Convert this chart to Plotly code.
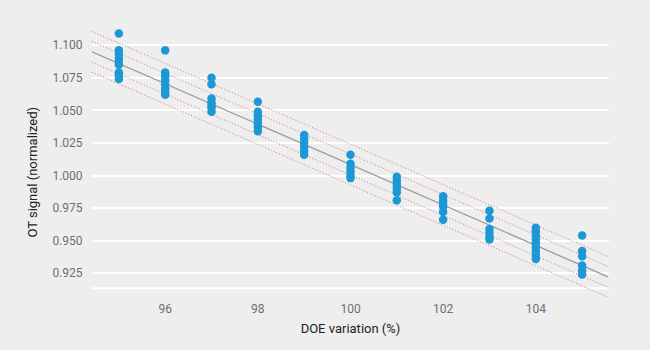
import plotly.graph_objects as go
import numpy as np

# ---- data ----
doe_levels = [95, 96, 97, 98, 99, 100, 101, 102, 103, 104, 105]
signal_95 = [1.109, 1.096, 1.093, 1.090, 1.087, 1.085, 1.079, 1.077, 1.074]
signal_96 = [1.096, 1.079, 1.076, 1.073, 1.070, 1.067, 1.064, 1.062]
signal_97 = [1.075, 1.070, 1.059, 1.056, 1.054, 1.052, 1.049]
signal_98 = [1.0565, 1.049, 1.046, 1.043, 1.040, 1.037, 1.034]
signal_99 = [1.031, 1.028, 1.025, 1.022, 1.019, 1.016]
signal_100 = [1.016, 1.009, 1.006, 1.003, 1.000, 0.998]
signal_101 = [0.999, 0.996, 0.993, 0.990, 0.987, 0.981]
signal_102 = [0.984, 0.981, 0.978, 0.976, 0.972, 0.966]
signal_103 = [0.973, 0.967, 0.959, 0.956, 0.953, 0.951]
signal_104 = [0.960, 0.957, 0.954, 0.951, 0.948, 0.945, 0.942, 0.939, 0.936]
signal_105 = [0.954, 0.942, 0.938, 0.931, 0.927, 0.924]
signals = [signal_95, signal_96, signal_97, signal_98, signal_99, signal_100,
           signal_101, signal_102, signal_103, signal_104, signal_105]

fit_value_at_100 = 1.0084
fit_slope = -0.0155
band_offsets = [0.008, 0.0156]
line_x_span = [94.42, 105.56]
y_tick_values = [0.925, 0.950, 0.975, 1.000, 1.025, 1.050, 1.075, 1.100]
x_tick_values = [96, 98, 100, 102, 104]

BG = "#eeeeee"
BLUE = "#1b98d5"
RED = "#d27474"
GRAY = "#9a9a9a"

xs, ys = [], []
for lvl, vals in zip(doe_levels, signals):
    xs += [lvl] * len(vals)
    ys += vals

lx = np.array(line_x_span)
fit_y = fit_value_at_100 + fit_slope * (lx - 100)

fig = go.Figure()
for off in band_offsets:
    for sgn in (1, -1):
        fig.add_trace(go.Scatter(x=lx, y=fit_y + sgn * off, mode="lines",
                                 line=dict(color=RED, width=1, dash="1px,2px"),
                                 hoverinfo="skip", showlegend=False))
fig.add_trace(go.Scatter(x=lx, y=fit_y, mode="lines",
                         line=dict(color=GRAY, width=1.3),
                         hoverinfo="skip", showlegend=False))
fig.add_trace(go.Scatter(x=xs, y=ys, mode="markers",
                         marker=dict(color=BLUE, size=8.5, line=dict(width=0)),
                         showlegend=False))

fig.add_shape(type="line", xref="paper", x0=0, x1=1, yref="y", y0=0.9135, y1=0.9135,
              line=dict(color="white", width=2), layer="below")

fig.add_annotation(text="OT signal (normalized)", textangle=-90,
                   xref="paper", x=0, xshift=-59, xanchor="center",
                   yref="paper", y=0.46, yanchor="middle", showarrow=False,
                   font=dict(family="Roboto", size=13, color="#222222"))

fig.update_layout(
    width=650, height=350,
    margin=dict(l=92, r=41, t=23, b=50),
    paper_bgcolor=BG, plot_bgcolor=BG,
    font=dict(family="Roboto", size=12, color="#6e6e6e"),
    xaxis=dict(range=[94.42, 105.58], tickvals=x_tick_values, showgrid=False,
               zeroline=False, showline=False, ticks="",
               title=dict(text="DOE variation (%)", standoff=8,
                          font=dict(size=13, color="#222222"))),
    yaxis=dict(range=[0.9045, 1.117], tickvals=y_tick_values, tickformat=".3f",
               showgrid=True, gridcolor="white", gridwidth=2, zeroline=False,
               showline=False, ticks="outside", ticklen=6, tickcolor=BG),
)

fig.write_html("out.html")
